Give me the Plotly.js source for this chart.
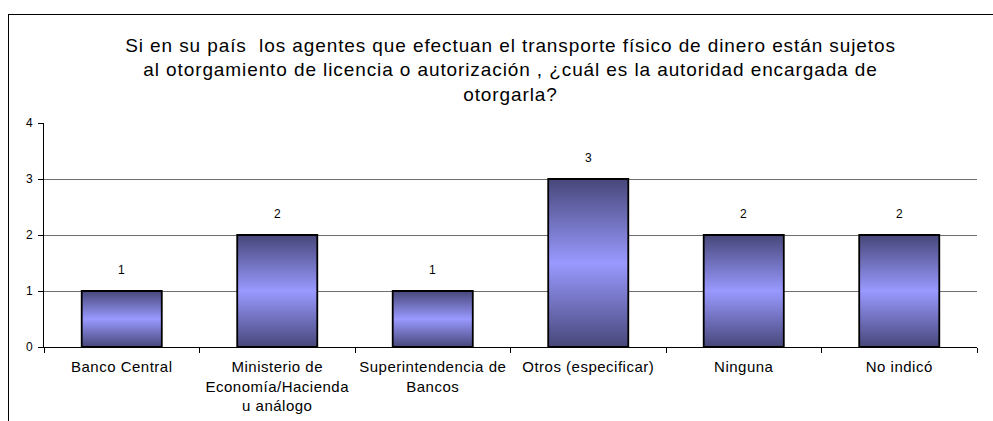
<!DOCTYPE html>
<html>
<head>
<meta charset="utf-8">
<script src="https://cdn.plot.ly/plotly-3.0.1.min.js"></script>
<style>
  html, body { margin: 0; padding: 0; background: #fff; }
  #marco {
    position: absolute; left: 8px; top: 14px;
    width: 984px; height: 406px;
    border-left: 1px solid #000; border-top: 1px solid #000;
  }
  #grafico { width: 984px; height: 406px; }
  /* el original (Excel) tiene el texto bastante espaciado */
  #grafico .gtitle { letter-spacing: 0.9px; }
  #grafico .xtick text { letter-spacing: 0.5px; }
</style>
</head>
<body>
<div id="marco"><div id="grafico"></div></div>
<script>
// datos del gráfico
var categorias = [
    "Banco Central",
    "Ministerio de<br>Economía/Hacienda<br>u análogo",
    "Superintendencia de<br>Bancos",
    "Otros (especificar)",
    "Ninguna",
    "No indicó"
];
var valores = [1, 2, 1, 3, 2, 2];
var marcasY = [0, 1, 2, 3, 4];

var titulo = "Si en su país\u00a0 los agentes que efectuan el transporte físico de dinero están sujetos<br>" +
    "al otorgamiento de licencia o autorización , ¿cuál es la autoridad encargada de<br>" +
    "otorgarla?";

var fuente = "Liberation Sans, Arial, sans-serif";

var traza = {
    x: categorias,
    y: valores,
    type: "bar",
    marker: { color: "#9999ff", line: { color: "#000", width: 1.8 } },
    hoverinfo: "none"
};

// etiquetas de datos encima de cada barra
var etiquetas = categorias.map(function (c, i) {
    return {
        x: c, y: valores[i], xref: "x", yref: "y",
        text: String(valores[i]), showarrow: false,
        yanchor: "bottom", yshift: 12,
        font: { family: fuente, size: 12, color: "#000" }
    };
});

var layout = {
    width: 984,
    height: 406,
    margin: { l: 35, r: 16, t: 108, b: 74 },
    paper_bgcolor: "#fff",
    plot_bgcolor: "#fff",
    showlegend: false,
    bargap: 0.485,
    font: { family: fuente, color: "#000" },
    annotations: etiquetas,
    title: {
        text: titulo,
        font: { size: 19, color: "#000" },
        x: 0.5, xref: "paper", xanchor: "center",
        y: 0.91, yref: "container", yanchor: "top"
    },
    xaxis: {
        type: "category",
        showline: true, linecolor: "#000", linewidth: 1,
        ticks: "outside", tickson: "boundaries", ticklen: 5, tickcolor: "#000",
        ticklabelstandoff: 6,
        tickfont: { size: 15, color: "#000" },
        tickangle: 0,
        showgrid: false, zeroline: false, fixedrange: true
    },
    yaxis: {
        range: [0, 4],
        tickvals: marcasY,
        showline: true, linecolor: "#000", linewidth: 1,
        ticks: "outside", ticklen: 5, tickcolor: "#000",
        ticklabelstandoff: 3,
        tickfont: { size: 12, color: "#000" },
        showgrid: true, gridcolor: "#6e6e6e", gridwidth: 1,
        zeroline: false, fixedrange: true
    }
};

var config = { staticPlot: true, displayModeBar: false };

// degradado vertical (oscuro - claro - oscuro) como en Excel
function aplicarDegradado(gd) {
    var svg = gd.querySelector("svg.main-svg");
    var ns = "http://www.w3.org/2000/svg";
    var defs = document.createElementNS(ns, "defs");
    var grad = document.createElementNS(ns, "linearGradient");
    grad.setAttribute("id", "degradadoBarra");
    grad.setAttribute("x1", "0"); grad.setAttribute("y1", "0");
    grad.setAttribute("x2", "0"); grad.setAttribute("y2", "1");
    [["0", "#47477a"], ["0.5", "#9999ff"], ["1", "#47477a"]].forEach(function (s) {
        var stop = document.createElementNS(ns, "stop");
        stop.setAttribute("offset", s[0]);
        stop.setAttribute("stop-color", s[1]);
        grad.appendChild(stop);
    });
    defs.appendChild(grad);
    svg.insertBefore(defs, svg.firstChild);
    gd.querySelectorAll("g.point path").forEach(function (p) {
        p.style.fill = "url(#degradadoBarra)";
    });
}

Plotly.newPlot("grafico", [traza], layout, config).then(aplicarDegradado);
</script>
</body>
</html>
